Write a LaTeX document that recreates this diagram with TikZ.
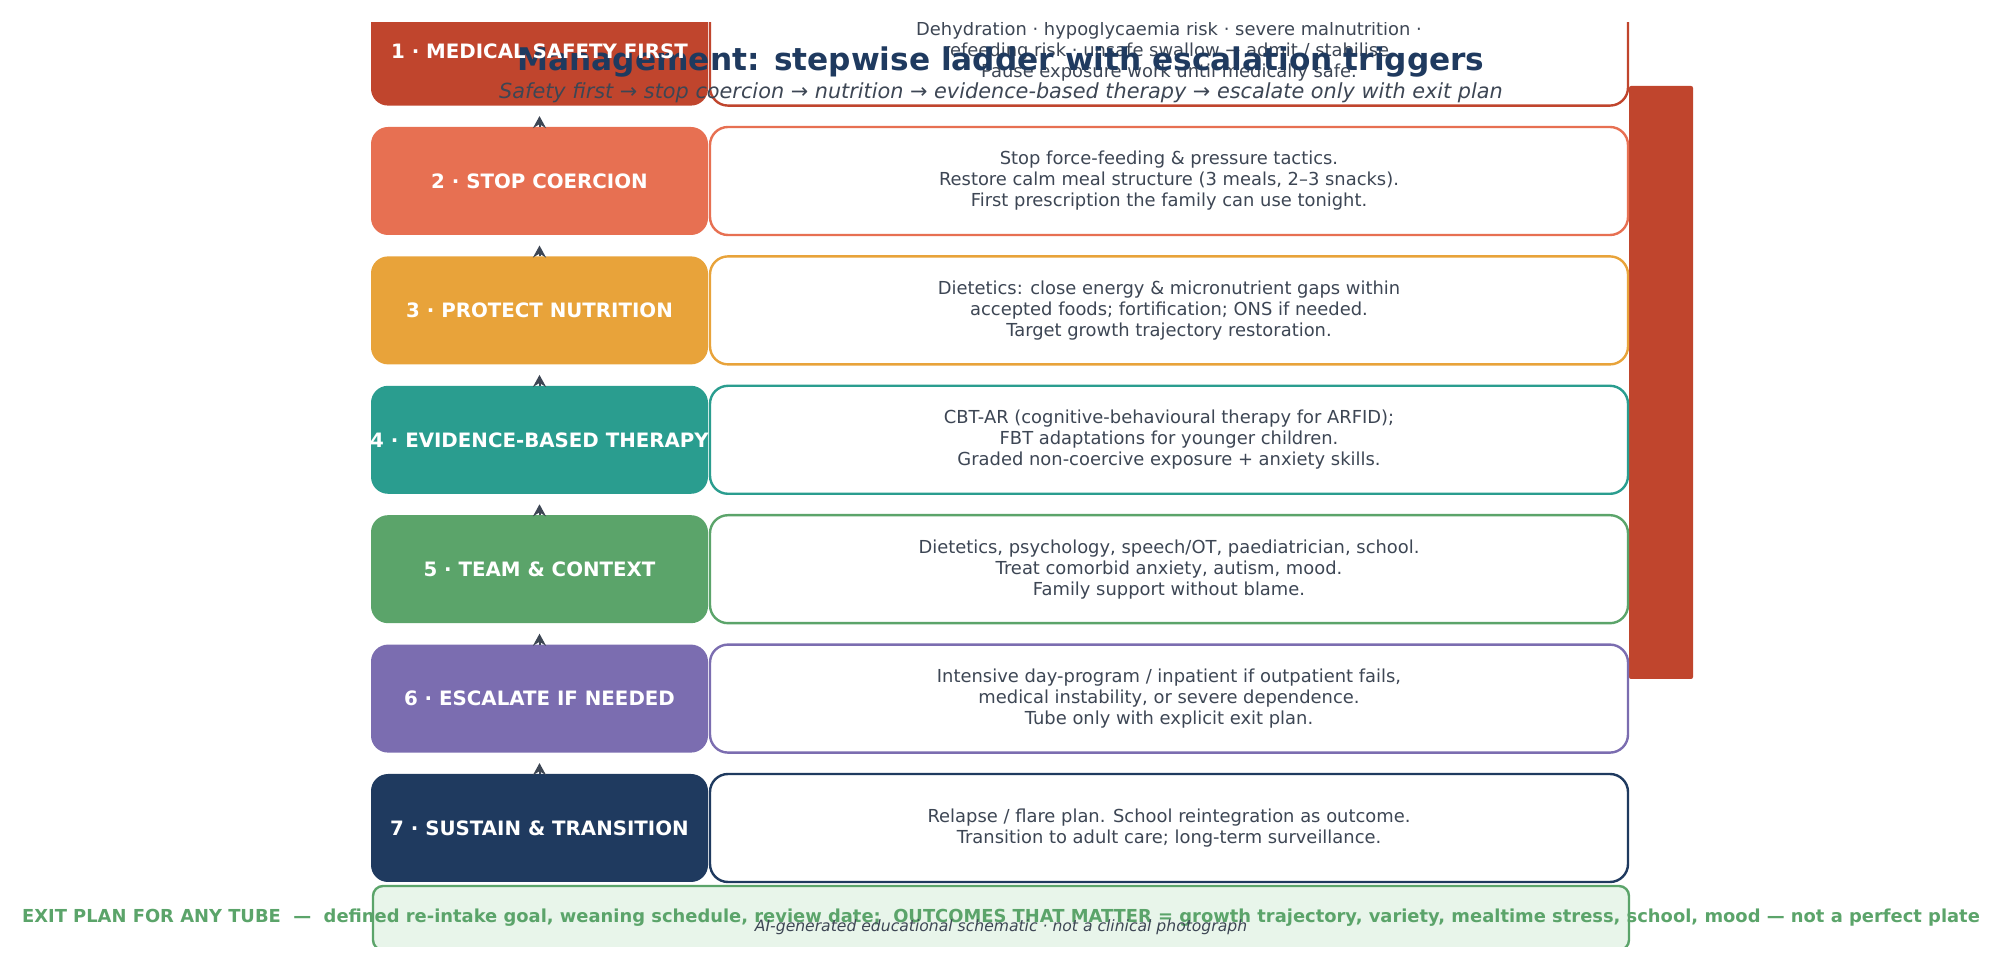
\documentclass[tikz,border=0pt]{standalone}
\usepackage{fontspec}
\setmainfont{DejaVu Sans}
\usetikzlibrary{positioning,arrows.meta}

\definecolor{safetyred}{RGB}{192,69,45}
\definecolor{coralred}{RGB}{231,112,82}
\definecolor{amber}{RGB}{232,163,58}
\definecolor{teal}{RGB}{42,157,143}
\definecolor{sage}{RGB}{91,164,106}
\definecolor{lavender}{RGB}{123,109,176}
\definecolor{navy}{RGB}{31,58,95}
\definecolor{inkgrey}{RGB}{61,70,84}
\definecolor{mintbg}{RGB}{232,245,234}

\begin{document}
\begin{tikzpicture}[
  x=1pt, y=1pt,
  stepbox/.style={fill=#1, rounded corners=17pt, minimum width=337pt, minimum height=108pt, inner sep=0pt, outer sep=0pt},
  stepnote/.style={draw=#1, fill=white, line width=2.4pt, rounded corners=18pt, minimum width=918pt, minimum height=108pt,
    inner sep=0pt, outer sep=0pt, align=center, text=inkgrey, font=\fontsize{17.9}{21}\selectfont},
  steplabel/.style={text=white, font=\fontsize{19.8}{23}\selectfont\bfseries},
  uparrow/.style={-{Stealth[length=12pt,width=13pt]}, line width=2pt, draw=inkgrey, shorten >=10.5pt},
  node distance=21.4pt
]
\useasboundingbox (0,0) rectangle (2002,969);

% escalation bar behind the notes
\fill[safetyred, rounded corners=2pt] (1629,290) rectangle (1693,883);

\begin{scope}
\clip (0,23) rectangle (2002,946);
% ladder rungs
\node[stepbox=safetyred] (s1) at (539.5,917.4) {};
\node[stepbox=coralred, below=of s1] (s2) {};
\node[stepbox=amber, below=of s2] (s3) {};
\node[stepbox=teal, below=of s3] (s4) {};
\node[stepbox=sage, below=of s4] (s5) {};
\node[stepbox=lavender, below=of s5] (s6) {};
\node[stepbox=navy, below=of s6] (s7) {};

% what each rung means
\node[stepnote=safetyred, right=2pt of s1] (d1) {Dehydration · hypoglycaemia risk · severe malnutrition ·\\refeeding risk · unsafe swallow → admit / stabilise.\\Pause exposure work until medically safe.};
\node[stepnote=coralred, right=2pt of s2] (d2) {Stop force-feeding \& pressure tactics.\\Restore calm meal structure (3 meals, 2–3 snacks).\\First prescription the family can use tonight.};
\node[stepnote=amber, right=2pt of s3] (d3) {Dietetics: close energy \& micronutrient gaps within\\accepted foods; fortification; ONS if needed.\\Target growth trajectory restoration.};
\node[stepnote=teal, right=2pt of s4] (d4) {CBT-AR (cognitive-behavioural therapy for ARFID);\\FBT adaptations for younger children.\\Graded non-coercive exposure + anxiety skills.};
\node[stepnote=sage, right=2pt of s5] (d5) {Dietetics, psychology, speech/OT, paediatrician, school.\\Treat comorbid anxiety, autism, mood.\\Family support without blame.};
\node[stepnote=lavender, right=2pt of s6] (d6) {Intensive day-program / inpatient if outpatient fails,\\medical instability, or severe dependence.\\Tube only with explicit exit plan.};
\node[stepnote=navy, right=2pt of s7] (d7) {Relapse / flare plan. School reintegration as outcome.\\Transition to adult care; long-term surveillance.};

\node[draw=sage, fill=mintbg, line width=2.4pt, rounded corners=10pt, minimum width=1256pt, minimum height=64pt, outer sep=0pt,
  below=4pt of s7.south west, anchor=north west, xshift=2pt] (exit) {};

\draw[uparrow] (s2) -- (s1);
\draw[uparrow] (s3) -- (s2);
\draw[uparrow] (s4) -- (s3);
\draw[uparrow] (s5) -- (s4);
\draw[uparrow] (s6) -- (s5);
\draw[uparrow] (s7) -- (s6);
\end{scope}

\node[text=navy, font=\fontsize{31.2}{36}\selectfont\bfseries] (title) at (1001,906.5) {Management: stepwise ladder with escalation triggers};
\node[text=inkgrey, font=\fontsize{20.8}{24}\selectfont\itshape] (subtitle) at (1001,876) {Safety first → stop coercion → nutrition → evidence-based therapy → escalate only with exit plan};

\node[steplabel] (l1) at (s1) {1 · MEDICAL SAFETY FIRST};
\node[steplabel] (l2) at (s2) {2 · STOP COERCION};
\node[steplabel] (l3) at (s3) {3 · PROTECT NUTRITION};
\node[steplabel] (l4) at (s4) {4 · EVIDENCE-BASED THERAPY};
\node[steplabel] (l5) at (s5) {5 · TEAM \& CONTEXT};
\node[steplabel] (l6) at (s6) {6 · ESCALATE IF NEEDED};
\node[steplabel] (l7) at (s7) {7 · SUSTAIN \& TRANSITION};

\node[text=sage, font=\fontsize{17.9}{21}\selectfont\bfseries] (exitnote) at (exit) {EXIT PLAN FOR ANY TUBE~ —~ defined re-intake goal, weaning schedule, review date;~ OUTCOMES THAT MATTER = growth trajectory, variety, mealtime stress, school, mood — not a perfect plate};
\node[text=inkgrey, font=\fontsize{15.6}{18}\selectfont\itshape, yshift=-9pt] (credit) at (exit) {AI-generated educational schematic · not a clinical photograph};
\end{tikzpicture}
\end{document}
